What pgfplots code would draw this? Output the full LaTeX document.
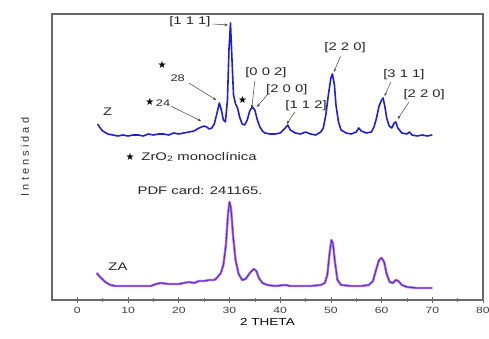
\documentclass[border=0pt]{standalone}
\usepackage{fontspec}
\setmainfont{Liberation Sans}[FakeStretch=1.35]
\newfontfamily\spacedfont{Liberation Sans}[LetterSpace=28]
\newfontfamily\symfont{DejaVu Sans}
\usepackage{pgfplots}
\pgfplotsset{compat=1.18}
\usetikzlibrary{arrows.meta}
\definecolor{zblue}{RGB}{30,30,215}
\definecolor{zahalo}{RGB}{170,110,245}
\definecolor{zacore}{RGB}{90,40,180}
\definecolor{boxgray}{RGB}{105,105,105}
\begin{document}
\begin{tikzpicture}
\path[use as bounding box] (-52pt,-39pt) rectangle (437pt,300pt);
\begin{axis}[
  at={(0pt,0pt)}, anchor=south west, scale only axis,
  width=431pt, height=286pt,
  xmin=-5, xmax=80, ymin=0, ymax=286,
  axis line style={draw=boxgray, line width=1.3pt},
  xtick={0,10,...,80}, minor xtick={5,15,...,75}, ytick=\empty,
  xtick pos=bottom, tick align=center,
  major tick length=6pt, minor tick length=4pt,
  tick style={boxgray, line width=0.6pt},
  /pgf/number format/assume math mode=true,
  xticklabel style={font=\fontsize{9}{10}\selectfont, text=black!75, yshift=-1pt},
  xlabel={2 THETA},
  xlabel style={at={(axis description cs:0.5,-0.077)}, anchor=center, font=\fontsize{10}{12}\selectfont},
  ylabel={\spacedfont Intensidad},
  ylabel style={at={(axis description cs:-0.063,0.5)}, anchor=center, font=\fontsize{11}{12}\selectfont, text=black!80},
  clip=false,
]
% Z pattern
\addplot[zblue, line width=1.6pt, line join=round] coordinates {
(4.0,176) (4.5,172) (5.0,169) (6,166) (7,165) (8,164) (9,165) (10,164) (11,165) (12,165)
(13,164) (14,166) (15,165) (16,166) (17,166) (18,165) (19,167) (20,166) (21,167) (22,168)
(23,169) (24,172) (25,174) (25.5,173) (26,171) (26.5,172) (27,176) (27.5,186) (28.0,197)
(28.4,190) (28.8,180) (29.2,178) (29.6,200) (29.9,250) (30.2,277) (30.5,240) (30.8,205)
(31.2,196) (31.6,192) (32.0,183) (32.5,176) (33.0,175) (33.5,180) (34.0,189) (34.5,193)
(35.0,190) (35.5,180) (36.0,173) (36.5,169) (37,167) (38,166) (39,166) (40,167) (41,172)
(41.5,175) (42,170) (43,167) (44,166) (45,168) (46,166) (47,165) (48,168) (48.5,172)
(49.0,185) (49.5,205) (50.0,222) (50.3,226) (50.7,215) (51.0,195) (51.5,178) (52,170)
(53,167) (54,166) (55,168) (55.5,172) (56,169) (57,167) (58,168) (58.5,173) (59.0,182)
(59.5,194) (60.0,200) (60.3,202) (60.7,192) (61.0,182) (61.5,174) (62.0,172) (62.5,177)
(62.8,178) (63.2,172) (64,167) (65,166) (65.5,168) (66,165) (67,164) (68,165) (69,164) (70,165)
};
% ZA pattern
\addplot[zahalo, line width=2.4pt, line join=round] coordinates {
(3.8,27) (4.5,23) (5.5,18) (6.5,15) (7.5,14) (9,14) (11,14) (13,14) (14.5,14) (15.5,16)
(16.5,17) (18,16) (20,16) (21,17) (22,18) (23,17) (24,19) (25,19) (26,20) (27,20) (27.5,22)
(28.3,27) (28.8,35) (29.3,55) (29.7,85) (30.0,98) (30.3,92) (30.7,65) (31.2,40) (31.8,26)
(32.5,20) (33.2,21) (34,27) (34.8,31) (35.3,29) (35.8,22) (36.5,17) (37.5,15) (39,14)
(41,15) (42,14) (44,14) (46,14) (48,15) (48.8,17) (49.3,25) (49.7,45) (50.1,60) (50.4,57)
(50.8,38) (51.3,20) (52,15) (54,14) (56,14) (57.5,15) (58.3,19) (58.9,30) (59.5,40)
(60.0,42) (60.5,38) (61.0,26) (61.6,18) (62.2,17) (62.8,20) (63.3,19) (64,15) (65,13)
(67,12) (69,12) (70,12)
};
\addplot[zacore, line width=0.8pt, line join=round] coordinates {
(3.8,27) (4.5,23) (5.5,18) (6.5,15) (7.5,14) (9,14) (11,14) (13,14) (14.5,14) (15.5,16)
(16.5,17) (18,16) (20,16) (21,17) (22,18) (23,17) (24,19) (25,19) (26,20) (27,20) (27.5,22)
(28.3,27) (28.8,35) (29.3,55) (29.7,85) (30.0,98) (30.3,92) (30.7,65) (31.2,40) (31.8,26)
(32.5,20) (33.2,21) (34,27) (34.8,31) (35.3,29) (35.8,22) (36.5,17) (37.5,15) (39,14)
(41,15) (42,14) (44,14) (46,14) (48,15) (48.8,17) (49.3,25) (49.7,45) (50.1,60) (50.4,57)
(50.8,38) (51.3,20) (52,15) (54,14) (56,14) (57.5,15) (58.3,19) (58.9,30) (59.5,40)
(60.0,42) (60.5,38) (61.0,26) (61.6,18) (62.2,17) (62.8,20) (63.3,19) (64,15) (65,13)
(67,12) (69,12) (70,12)
};
% annotations
\tikzset{lab/.style={font=\fontsize{11}{12}\selectfont, inner sep=0pt, text=black!85},
         star/.style={font=\symfont\fontsize{10}{11}\selectfont, inner sep=0pt},
         arr/.style={-{Stealth[length=3.5pt,width=2.5pt]}, black!75, line width=0.5pt}}
\node[lab] at (axis cs:22.2,278) {[1 1 1]};
\draw[arr] (axis cs:26.8,276) -- (axis cs:29.7,275);
\node[star] at (axis cs:16.7,235) {★};
\node[lab, font=\fontsize{9.5}{10}\selectfont] at (axis cs:19.8,222) {28};
\draw[arr] (axis cs:22.0,217) -- (axis cs:27.4,200);
\node[star] at (axis cs:14.3,198) {★};
\node[lab, font=\fontsize{9.5}{10}\selectfont] at (axis cs:16.9,197) {24};
\draw[arr] (axis cs:18.4,194) -- (axis cs:24.4,179);
\node[lab] at (axis cs:6.0,188) {Z};
\node[star] at (axis cs:32.6,200) {★};
\node[lab] at (axis cs:37.2,227) {[0 0 2]};
\draw[arr] (axis cs:35.0,219) -- (axis cs:34.4,192);
\node[lab] at (axis cs:41.3,210) {[2 0 0]};
\draw[arr] (axis cs:37.6,206) -- (axis cs:35.4,193);
\node[lab] at (axis cs:45.1,194) {[1 1 2]};
\draw[arr] (axis cs:42.9,188) -- (axis cs:41.3,176);
\node[lab] at (axis cs:52.8,252) {[2 2 0]};
\draw[arr] (axis cs:51.9,244) -- (axis cs:50.6,228);
\node[lab] at (axis cs:64.4,225) {[3 1 1]};
\draw[arr] (axis cs:61.8,218) -- (axis cs:60.6,204);
\node[lab] at (axis cs:68.4,205) {[2 2 0]};
\draw[arr] (axis cs:65.4,198) -- (axis cs:63.2,181);
\node[star] at (axis cs:10.4,143) {★};
\node[lab, anchor=west] at (axis cs:12.6,143) {ZrO\textsubscript{2} monoclínica};
\node[lab] at (axis cs:24.2,109) {PDF card: 241165.};
\node[lab] at (axis cs:8.0,33) {ZA};
\end{axis}
\draw[boxgray, line width=1.3pt] (0pt,0pt) rectangle (431pt,286pt);
\end{tikzpicture}
\end{document}
